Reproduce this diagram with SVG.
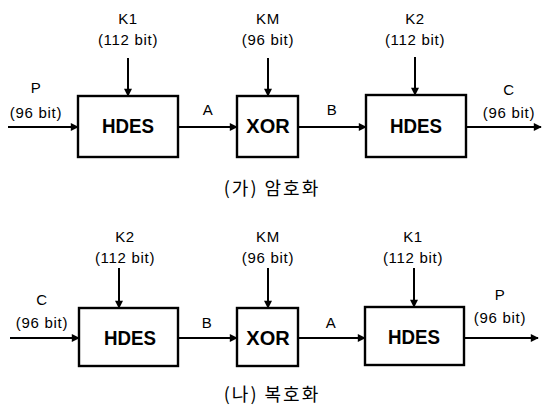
<svg xmlns="http://www.w3.org/2000/svg" width="543" height="407" viewBox="0 0 543 407">
  <defs>
    <marker id="arrow" viewBox="0 0 10 10" refX="9" refY="5" markerWidth="9" markerHeight="8" markerUnits="userSpaceOnUse" orient="auto">
      <path d="M0,0 L10,5 L0,10 Z" fill="#000"/>
    </marker>
  </defs>
  <style>
    .box { fill: #fff; stroke: #000; stroke-width: 2.4; }
    .wire { fill: none; stroke: #000; stroke-width: 2; marker-end: url(#arrow); }
    .lbl { font-family: "Liberation Sans", Arial, sans-serif; font-size: 15px; letter-spacing: 0.7px; text-anchor: middle; fill: #000; }
    .blk { font-family: "Liberation Sans", Arial, sans-serif; font-size: 20px; font-weight: bold; text-anchor: middle; fill: #000; }
    .cap { font-family: "Noto Sans CJK KR", sans-serif; font-size: 18px; letter-spacing: 2px; text-anchor: middle; fill: #000; }
  </style>
  <rect width="543" height="407" fill="#fff"/>

  <!-- encryption chain -->
  <g id="connectors-enc">
    <line class="wire" x1="8" y1="127" x2="78" y2="127"/>
    <line class="wire" x1="178" y1="127" x2="237" y2="127"/>
    <line class="wire" x1="298" y1="127" x2="366" y2="127"/>
    <line class="wire" x1="466" y1="127" x2="541" y2="127"/>
    <line class="wire" x1="128" y1="58" x2="128" y2="96"/>
    <line class="wire" x1="268" y1="58" x2="268" y2="96"/>
    <line class="wire" x1="415" y1="57" x2="415" y2="95"/>
  </g>
  <g id="enc-hdes1">
    <rect class="box" x="78" y="96" width="100" height="61"/>
    <text class="blk" x="128" y="133" textLength="52" lengthAdjust="spacingAndGlyphs">HDES</text>
  </g>
  <g id="enc-xor">
    <rect class="box" x="237" y="96" width="61" height="61"/>
    <text class="blk" x="268" y="133">XOR</text>
  </g>
  <g id="enc-hdes2">
    <rect class="box" x="366" y="95" width="100" height="62"/>
    <text class="blk" x="416" y="133" textLength="52" lengthAdjust="spacingAndGlyphs">HDES</text>
  </g>
  <g id="enc-labels">
    <text class="lbl" x="128" y="24">K1</text>
    <text class="lbl" x="128" y="45">(112 bit)</text>
    <text class="lbl" x="268" y="24">KM</text>
    <text class="lbl" x="268" y="45">(96 bit)</text>
    <text class="lbl" x="415" y="24">K2</text>
    <text class="lbl" x="415" y="45">(112 bit)</text>
    <text class="lbl" x="36" y="93">P</text>
    <text class="lbl" x="36" y="118">(96 bit)</text>
    <text class="lbl" x="208" y="115">A</text>
    <text class="lbl" x="332" y="115">B</text>
    <text class="lbl" x="509" y="95">C</text>
    <text class="lbl" x="509" y="118">(96 bit)</text>
    <text class="cap" x="272" y="195">(가) 암호화</text>
  </g>

  <!-- decryption chain -->
  <g id="connectors-dec">
    <line class="wire" x1="10" y1="338" x2="79" y2="338"/>
    <line class="wire" x1="178" y1="338" x2="237" y2="338"/>
    <line class="wire" x1="298" y1="338" x2="365" y2="338"/>
    <line class="wire" x1="464" y1="338" x2="538" y2="338"/>
    <line class="wire" x1="119" y1="268" x2="119" y2="308"/>
    <line class="wire" x1="268" y1="268" x2="268" y2="308"/>
    <line class="wire" x1="414" y1="268" x2="414" y2="307"/>
  </g>
  <g id="dec-hdes1">
    <rect class="box" x="79" y="308" width="99" height="58"/>
    <text class="blk" x="130" y="345" textLength="52" lengthAdjust="spacingAndGlyphs">HDES</text>
  </g>
  <g id="dec-xor">
    <rect class="box" x="237" y="308" width="61" height="58"/>
    <text class="blk" x="268" y="345">XOR</text>
  </g>
  <g id="dec-hdes2">
    <rect class="box" x="365" y="307" width="99" height="58"/>
    <text class="blk" x="414" y="344" textLength="52" lengthAdjust="spacingAndGlyphs">HDES</text>
  </g>
  <g id="dec-labels">
    <text class="lbl" x="125" y="242">K2</text>
    <text class="lbl" x="125" y="263">(112 bit)</text>
    <text class="lbl" x="268" y="242">KM</text>
    <text class="lbl" x="268" y="263">(96 bit)</text>
    <text class="lbl" x="413" y="242">K1</text>
    <text class="lbl" x="413" y="263">(112 bit)</text>
    <text class="lbl" x="42" y="305">C</text>
    <text class="lbl" x="42" y="328">(96 bit)</text>
    <text class="lbl" x="207" y="328">B</text>
    <text class="lbl" x="331" y="328">A</text>
    <text class="lbl" x="500" y="300">P</text>
    <text class="lbl" x="500" y="323">(96 bit)</text>
    <text class="cap" x="272" y="401">(나) 복호화</text>
  </g>
</svg>
